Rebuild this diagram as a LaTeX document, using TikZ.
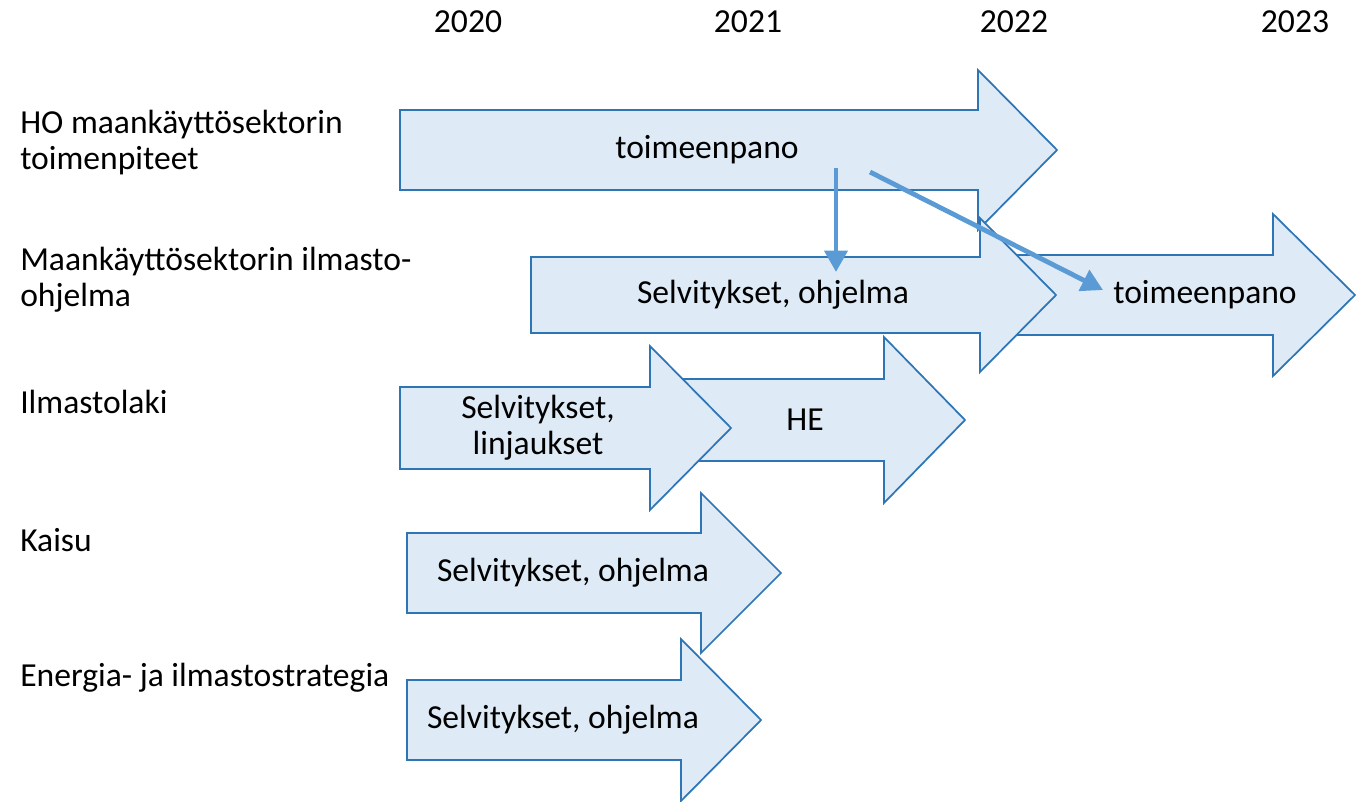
\documentclass[tikz,border=0pt]{standalone}
\usepackage{fontspec}
\setmainfont{Carlito}
\usetikzlibrary{arrows.meta}

\definecolor{barfill}{RGB}{222,235,246}
\definecolor{barline}{RGB}{46,117,182}
\definecolor{linkblue}{RGB}{91,155,213}

\tikzset{
  barrow/.style={draw=barline, fill=barfill, line width=1.3pt, line join=miter},
  btext/.style={align=center, inner sep=0pt},
  rowlabel/.style={anchor=west, align=left, inner sep=0pt},
  yearlabel/.style={inner sep=0pt},
  link/.style={draw=linkblue, line width=3.6pt, -{Triangle[length=16pt,width=17pt]}}
}

% block arrow: name, start x, neck x, tip x, centre y, body half, head half, text x, text
\newcommand{\blockarr}[9]{%
  \draw[barrow] (#2,#5-#6) -- (#3,#5-#6) -- (#3,#5-#7) -- (#4,#5) -- (#3,#5+#7) -- (#3,#5+#6) -- (#2,#5+#6) -- cycle;
  \node[btext] (#1) at (#8,#5) {#9};}

\begin{document}
\begin{tikzpicture}[x=0.75pt, y=-0.75pt, font=\fontsize{25.2}{27}\selectfont]
    \useasboundingbox (0,0) rectangle (1365,801);

    % years
    \node[yearlabel] (y2020) at (468,22) {2020};
    \node[yearlabel] (y2021) at (748,22) {2021};
    \node[yearlabel] (y2022) at (1014,22) {2022};
    \node[yearlabel] (y2023) at (1295,22) {2023};

    % rows
    \node[rowlabel] (ho) at (20,143) {HO maankäyttösektorin\\toimenpiteet};
    \node[rowlabel] (mko) at (20,280) {Maankäyttösektorin ilmasto-\\ohjelma};
    \node[rowlabel] (ilm) at (20,402) {Ilmastolaki};
    \node[rowlabel] (kaisu) at (20,540) {Kaisu};
    \node[rowlabel] (eis) at (20,678) {Energia- ja ilmastostrategia};

    % arrows
    \blockarr{hotoim}{400}{978}{1057}{150}{40}{80}{707}{toimeenpano}
    \blockarr{mktoim}{1000}{1273}{1355}{295}{40}{81}{1205}{toimeenpano}
    \blockarr{mksel}{531}{980}{1056}{295}{38}{77}{773}{Selvitykset, ohjelma}
    \blockarr{he}{680}{884}{965}{420}{41}{83}{805}{HE}
    \blockarr{ilsel}{400}{650}{731}{428}{41}{82}{538}{Selvitykset,\\linjaukset}
    \blockarr{eissel}{407}{681}{761}{720}{40}{81}{563}{Selvitykset, ohjelma}
    \blockarr{kaisel}{407}{701}{781}{573}{40}{80}{573}{Selvitykset, ohjelma}

    % links
    \coordinate (s1) at (836,168);
    \coordinate (e1) at (836,272);
    \coordinate (s2) at (870,172);
    \coordinate (e2) at (1103,290);
    \draw[link] (s1) -- (e1);
    \draw[link] (s2) -- (e2);
\end{tikzpicture}
\end{document}
